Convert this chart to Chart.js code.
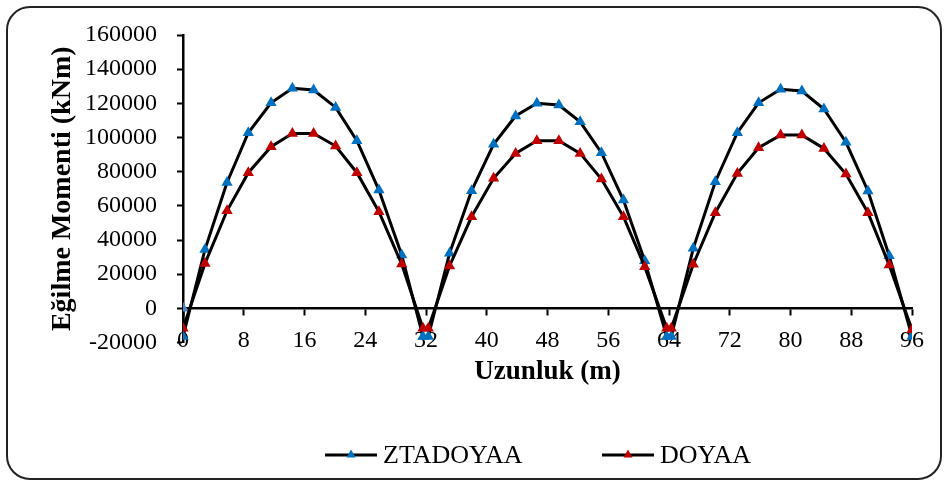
<!DOCTYPE html>
<html>
<head>
<meta charset="utf-8">
<title>Eğilme Momenti</title>
<script src="https://cdn.jsdelivr.net/npm/chart.js@4.4.1/dist/chart.umd.min.js"></script>
<style>
  html, body { margin: 0; padding: 0; background: #fff; }
  #wrap { position: relative; width: 944px; height: 480px; overflow: hidden; }
  #frame {
    position: absolute; left: 6px; top: 6px;
    width: 932px; height: 470px;
    border: 2px solid #222; border-radius: 24px;
  }
  #chart { position: absolute; left: 0; top: 0; }
  #legend {
    position: absolute; left: 0; top: 437px; width: 944px; height: 36px;
    font-family: "Liberation Serif", "Times New Roman", serif; font-size: 26px; color: #000;
  }
  .item { position: absolute; top: 0; height: 36px; display: flex; align-items: center; white-space: nowrap; }
  .item svg { margin-right: 6px; }
</style>
</head>
<body>
<div id="wrap">
  <div id="frame"></div>
  <canvas id="chart" width="944" height="480"></canvas>
  <div id="legend"></div>
</div>
<script>
// distance along the deck (m), three spans, 12 sections each
const distance = [
  0, 2.9, 5.8, 8.6, 11.6, 14.4, 17.2, 20.1, 22.9, 25.8, 28.8, 31.6,
  32.3, 35.1, 38.0, 40.9, 43.8, 46.6, 49.5, 52.3, 55.1, 58.0, 60.8, 63.7,
  64.3, 67.2, 70.1, 73.0, 75.8, 78.7, 81.5, 84.4, 87.3, 90.2, 93.0, 96.0
];

// bending moment (kNm)
const ztadoyaa = [
  -16500, 34500, 73700, 102800, 120300, 128800, 127800, 117600, 98100, 69200, 31200, -16500,
  -16500, 32200, 68800, 96000, 112600, 120000, 119000, 109200, 91100, 63400, 27900, -16500,
  -16500, 35100, 74100, 102800, 120300, 128200, 127200, 116700, 97200, 68700, 30800, -16500
];
const doyaa = [
  -11700, 26300, 57100, 79400, 94600, 102400, 102400, 95000, 79400, 56600, 25900, -11700,
  -11700, 24800, 53600, 76100, 90700, 98100, 98100, 90700, 75700, 53600, 24400, -11700,
  -11700, 25800, 56000, 79000, 94000, 101400, 101400, 93600, 78600, 56000, 25300, -12500
];

// support point at the left abutment
const ztadoyaaOrigin = { x: 0, y: 0 };

const seriesNames = ["ZTADOYAA", "DOYAA"];
const seriesColors = ["#0070C0", "#C00000"];
const originColor = "#4A86C8";

const xLimits = [0, 96];
const xStep = 8;
const yLimits = [-20000, 160000];
const yStep = 20000;

const serif = "'Liberation Serif', 'Times New Roman', serif";

const ztPoints = [ztadoyaaOrigin].concat(distance.map((x, i) => ({ x: x, y: ztadoyaa[i] })));
const doPoints = distance.map((x, i) => ({ x: x, y: doyaa[i] }));

const ctx = document.getElementById("chart").getContext("2d");

const chart = new Chart(ctx, {
  type: "line",
  data: {
    datasets: [
      {
        label: seriesNames[0],
        data: ztPoints,
        order: 1,
        borderColor: "#000",
        borderWidth: 3,
        tension: 0,
        pointStyle: "triangle",
        pointRadius: 6.5,
        pointBorderWidth: 0,
        pointBackgroundColor: ztPoints.map((p, i) => i === 0 ? originColor : seriesColors[0])
      },
      {
        label: seriesNames[1],
        data: doPoints,
        order: 0,
        borderColor: "#000",
        borderWidth: 3,
        tension: 0,
        pointStyle: "triangle",
        pointRadius: 6.5,
        pointBorderWidth: 0,
        pointBackgroundColor: seriesColors[1]
      }
    ]
  },
  options: {
    responsive: false,
    animation: false,
    // the x axis sits on the zero line, so the space under the plot is kept here
    layout: { padding: { top: 35, right: 32, bottom: 137.5, left: 0 } },
    plugins: {
      legend: { display: false },
      tooltip: { enabled: false }
    },
    scales: {
      x: {
        type: "linear",
        min: xLimits[0],
        max: xLimits[1],
        position: { y: 0 },
        afterFit: (s) => { s.height = 89.5; },
        border: { display: true, color: "#000", width: 2.5 },
        grid: { drawOnChartArea: false, drawTicks: true, tickLength: 6, tickWidth: 2, tickColor: "#000" },
        ticks: {
          stepSize: xStep,
          autoSkip: false,
          maxRotation: 0,
          padding: 12,
          color: "#000",
          font: { family: serif, size: 24 },
          callback: (v) => String(v)
        },
        title: {
          display: true,
          text: "Uzunluk (m)",
          color: "#000",
          font: { family: serif, size: 27, weight: "bold" },
          padding: { top: 0, bottom: 10 }
        }
      },
      y: {
        type: "linear",
        min: yLimits[0],
        max: yLimits[1],
        afterFit: (s) => { s.width = 183; },
        border: { display: true, color: "#000", width: 2.5 },
        grid: { drawOnChartArea: false, drawTicks: true, tickLength: 6, tickWidth: 2, tickColor: "#000" },
        ticks: {
          stepSize: yStep,
          padding: 20,
          color: "#000",
          font: { family: serif, size: 24 },
          callback: (v) => String(v)
        },
        title: {
          display: true,
          text: "Eğilme Momenti (kNm)",
          color: "#000",
          font: { family: serif, size: 28, weight: "bold" },
          padding: { top: 46, bottom: 0 }
        }
      }
    }
  }
});

/* LEGEND */
const legend = document.getElementById("legend");
const legendLeft = [325, 602];

chart.data.datasets.forEach((ds, i) => {
  const item = document.createElement("div");
  item.className = "item";
  item.style.left = legendLeft[i] + "px";
  item.innerHTML = `
    <svg width="52" height="36" viewBox="0 0 52 36">
      <line x1="0" y1="18" x2="52" y2="18" stroke="#000" stroke-width="3"/>
      <polygon points="26,12.5 30.5,20.5 21.5,20.5" fill="${seriesColors[i]}"/>
    </svg>
    <span>${ds.label}</span>
  `;
  legend.appendChild(item);
});
</script>
</body>
</html>
